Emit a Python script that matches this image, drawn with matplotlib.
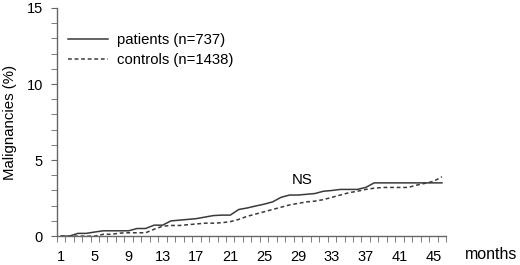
import matplotlib
matplotlib.use("Agg")
import matplotlib.pyplot as plt
import numpy as np

plt.rcParams['font.family'] = ['Liberation Sans', 'DejaVu Sans']

months = list(range(1, 47))
patients = [0, 0, 0.18, 0.18, 0.27, 0.35, 0.35, 0.35, 0.35, 0.5,
            0.5, 0.72, 0.72, 1.0, 1.05, 1.1, 1.15, 1.25, 1.35, 1.38,
            1.38, 1.75, 1.85, 1.98, 2.1, 2.25, 2.55, 2.7, 2.7, 2.75,
            2.8, 2.95, 3.0, 3.07, 3.07, 3.07, 3.2, 3.5, 3.5, 3.5,
            3.5, 3.5, 3.5, 3.5, 3.5, 3.5]
controls = [0, 0, 0, 0, 0, 0.12, 0.12, 0.2, 0.22, 0.22,
            0.22, 0.45, 0.65, 0.7, 0.7, 0.75, 0.8, 0.85, 0.85, 0.88,
            0.95, 1.1, 1.3, 1.45, 1.6, 1.75, 1.9, 2.05, 2.15, 2.25,
            2.3, 2.4, 2.55, 2.7, 2.85, 2.95, 3.07, 3.15, 3.2, 3.2,
            3.2, 3.2, 3.35, 3.47, 3.6, 3.9]
xtick_labels = list(range(1, 46, 4))
ytick_labels = [0, 5, 10, 15]

fig = plt.figure(figsize=(5.2, 2.65), dpi=100)
ax = fig.add_axes([0.109, 0.109, 0.749, 0.861])

ax.plot(months, patients, color='#3a3a3a', lw=1.1, label='patients (n=737)')
ax.plot(months, controls, color='#3a3a3a', lw=1.1, ls=(0, (2.5, 1.8)),
        label='controls (n=1438)')

ax.set_xlim(0.5, 46.5)
ax.set_ylim(0, 15)
for s in ['top', 'right']:
    ax.spines[s].set_visible(False)
for s in ['left', 'bottom']:
    ax.spines[s].set_color('#666666')
    ax.spines[s].set_linewidth(1.0)

ax.set_xticks(xtick_labels)
ax.set_xticklabels([str(m) for m in xtick_labels], fontsize=10.5)
ax.set_xticks(np.arange(0.5, 47, 1), minor=True)
ax.tick_params(axis='x', which='major', length=0, pad=10)
ax.tick_params(axis='x', which='minor', length=4, color='#666666', direction='out')

ax.set_yticks(ytick_labels)
ax.set_yticklabels([str(v) for v in ytick_labels], fontsize=10.5)
ax.set_yticks(np.arange(0, 16, 1), minor=True)
ax.tick_params(axis='y', which='both', length=4, color='#666666', direction='out', pad=6)

ax.set_ylabel('Malignancies (%)', fontsize=10.8, labelpad=7)
fig.text(0.944, 0.038, 'months', fontsize=11.5, ha='center', va='center')
ax.text(29.5, 3.7, 'NS', fontsize=10.8, ha='center', va='center')

ax.legend(loc='upper left', bbox_to_anchor=(-0.005, 0.95), frameon=False,
          fontsize=10.7, handlelength=2.7, handletextpad=0.6, labelspacing=0.45)

fig.savefig('out.png', dpi=100)
